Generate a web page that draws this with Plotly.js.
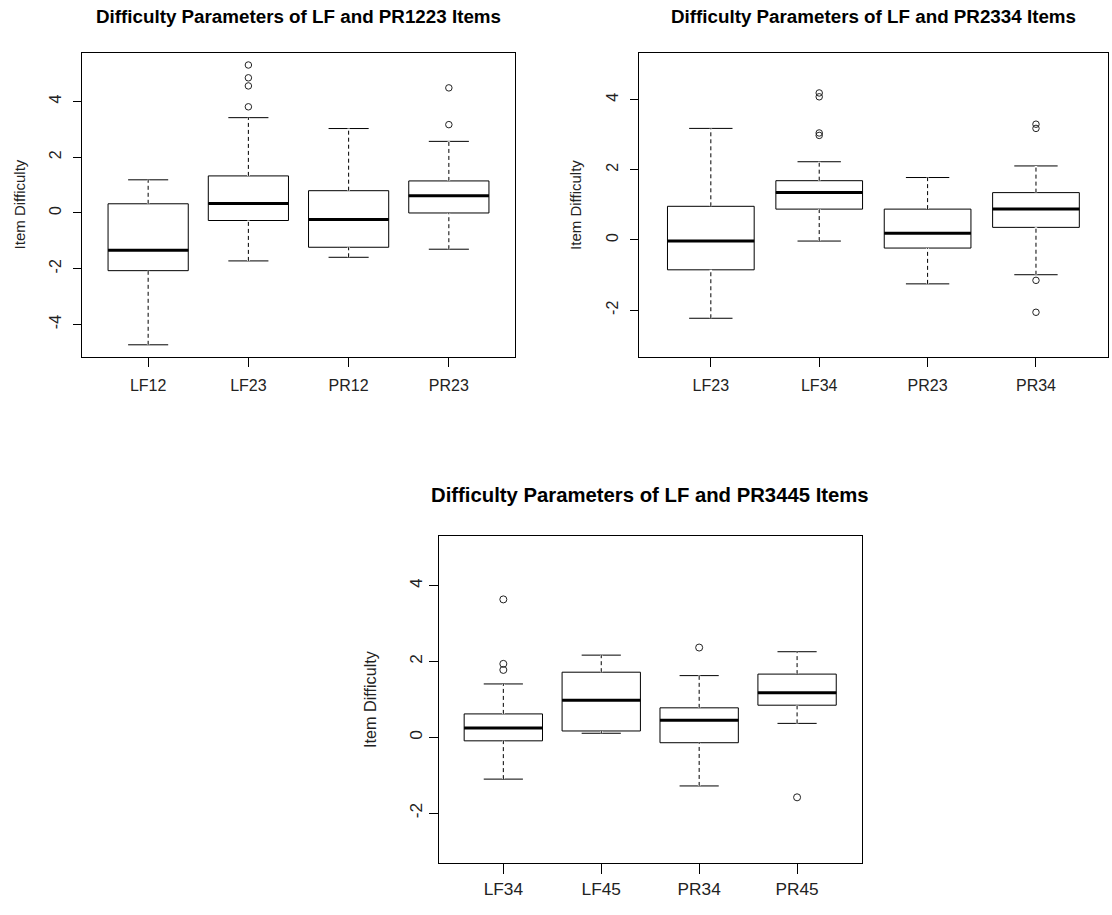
<!DOCTYPE html>
<html>
<head>
<meta charset="utf-8">
<script src="https://cdn.plot.ly/plotly-3.0.1.min.js"></script>
<style>html,body{margin:0;padding:0;background:#fff;}#chart{width:1112px;height:915px;}</style>
</head>
<body>
<div id="chart"></div>
<script>
// ---------- data ----------
const titles = [
  "Difficulty Parameters of LF and PR1223 Items",
  "Difficulty Parameters of LF and PR2334 Items",
  "Difficulty Parameters of LF and PR3445 Items"
];
const yLabel = "Item Difficulty";

const cats1 = ["LF12", "LF23", "PR12", "PR23"];
const lower1 = [-4.73, -1.72, -1.59, -1.30];
const q1_1   = [-2.07, -0.27, -1.23, 0.00];
const med1   = [-1.34, 0.34, -0.23, 0.62];
const q3_1   = [0.33, 1.33, 0.80, 1.15];
const upper1 = [1.19, 3.42, 3.03, 2.57];
const outCat1 = ["LF23", "LF23", "LF23", "LF23", "PR23", "PR23"];
const outVal1 = [5.31, 4.85, 4.56, 3.81, 4.49, 3.17];

const cats2 = ["LF23", "LF34", "PR23", "PR34"];
const lower2 = [-2.23, -0.03, -1.25, -0.99];
const q1_2   = [-0.85, 0.88, -0.23, 0.36];
const med2   = [-0.03, 1.35, 0.19, 0.88];
const q3_2   = [0.96, 1.69, 0.88, 1.35];
const upper2 = [3.18, 2.23, 1.78, 2.11];
const outCat2 = ["LF34", "LF34", "LF34", "LF34", "PR34", "PR34", "PR34", "PR34"];
const outVal2 = [4.19, 4.08, 3.05, 2.98, 3.30, 3.18, -1.15, -2.06];

const cats3 = ["LF34", "LF45", "PR34", "PR45"];
const lower3 = [-1.10, 0.11, -1.28, 0.37];
const q1_3   = [-0.09, 0.17, -0.14, 0.85];
const med3   = [0.25, 0.98, 0.45, 1.18];
const q3_3   = [0.62, 1.72, 0.78, 1.67];
const upper3 = [1.41, 2.17, 1.63, 2.26];
const outCat3 = ["LF34", "LF34", "LF34", "PR34", "PR45"];
const outVal3 = [3.64, 1.94, 1.78, 2.37, -1.58];

const yTicks1 = [-4, -2, 0, 2, 4];
const yTicks2 = [-2, 0, 2, 4];
const yTicks3 = [-2, 0, 2, 4];

// ---------- layout geometry (pixels) ----------
const W = 1112, H = 915;
const panels = [
  {cats: cats1, lo: lower1, q1: q1_1, md: med1, q3: q3_1, hi: upper1, oc: outCat1, ov: outVal1,
   yt: yTicks1, yr: [-5.15, 5.73], px: [82, 515], py: [53.3, 356.5], s: 1.0, titleY: 16, ytx: 19.5},
  {cats: cats2, lo: lower2, q1: q1_2, md: med2, q3: q3_2, hi: upper2, oc: outCat2, ov: outVal2,
   yt: yTicks2, yr: [-3.32, 5.32], px: [639.3, 1107.5], py: [53.3, 356.5], s: 1.0, titleY: 16, ytx: 576},
  {cats: cats3, lo: lower3, q1: q1_3, md: med3, q3: q3_3, hi: upper3, oc: outCat3, ov: outVal3,
   yt: yTicks3, yr: [-3.32, 5.32], px: [438.7, 861.7], py: [535.7, 863.3], s: 1.08, titleY: 495, ytx: 369.5}
];

const FONT = "Liberation Sans, Arial, Helvetica, sans-serif";
const BOXW = 0.8;
const traces = [];
const layout = {
  width: W, height: H,
  margin: {l: 0, r: 0, t: 0, b: 0},
  paper_bgcolor: "#fff", plot_bgcolor: "#fff",
  showlegend: false,
  font: {family: FONT, color: "#222"},
  annotations: []
};

panels.forEach((p, k) => {
  const n = k + 1;
  const xa = "x" + (n === 1 ? "" : n), ya = "y" + (n === 1 ? "" : n);
  const xKey = "xaxis" + (n === 1 ? "" : n), yKey = "yaxis" + (n === 1 ? "" : n);
  const pos = p.cats.map((c, i) => i + 1);

  // box bodies with whiskers and caps
  traces.push({
    type: "box", xaxis: xa, yaxis: ya, x: pos,
    q1: p.q1, median: p.md, q3: p.q3, lowerfence: p.lo, upperfence: p.hi,
    width: BOXW, whiskerwidth: 0.5, boxpoints: false,
    fillcolor: "#ffffff", line: {color: "#000", width: 1},
    hoverinfo: "skip"
  });

  // dashed whiskers (R style): white cover + dashed line
  const wx = [], wy = [];
  pos.forEach((x, i) => {
    wx.push(x, x, null, x, x, null);
    wy.push(p.q3[i], p.hi[i], null, p.lo[i], p.q1[i], null);
  });
  traces.push({type: "scatter", mode: "lines", xaxis: xa, yaxis: ya, x: wx, y: wy,
    line: {color: "#fff", width: 2.5}, hoverinfo: "skip", connectgaps: false});
  traces.push({type: "scatter", mode: "lines", xaxis: xa, yaxis: ya, x: wx, y: wy,
    line: {color: "#000", width: 1, dash: "4px,3px"}, hoverinfo: "skip", connectgaps: false});

  // thick medians
  const mx = [], my = [];
  pos.forEach((x, i) => { mx.push(x - BOXW / 2, x + BOXW / 2, null); my.push(p.md[i], p.md[i], null); });
  traces.push({type: "scatter", mode: "lines", xaxis: xa, yaxis: ya, x: mx, y: my,
    line: {color: "#000", width: 3}, hoverinfo: "skip"});

  // outliers
  traces.push({type: "scatter", mode: "markers", xaxis: xa, yaxis: ya,
    x: p.oc.map(c => p.cats.indexOf(c) + 1), y: p.ov,
    marker: {symbol: "circle-open", size: 6.5 * p.s, color: "#222", line: {width: 1, color: "#222"}},
    hoverinfo: "skip"});

  const fs = 16 * p.s;
  layout[xKey] = {
    domain: [p.px[0] / W, p.px[1] / W], anchor: ya,
    range: [0.34, 4.66], tickmode: "array", tickvals: pos, ticktext: p.cats,
    ticks: "outside", ticklen: 9 * p.s, tickwidth: 1, tickcolor: "#000",
    showline: true, mirror: true, linecolor: "#000", linewidth: 1,
    showgrid: false, zeroline: false, fixedrange: true,
    tickfont: {family: FONT, size: fs, color: "#222"}, ticklabelstandoff: 5 * p.s
  };
  layout[yKey] = {
    domain: [1 - p.py[1] / H, 1 - p.py[0] / H], anchor: xa,
    range: p.yr, tickmode: "array", tickvals: p.yt, ticktext: p.yt.map(String),
    tickangle: -90,
    ticks: "outside", ticklen: 8 * p.s, tickwidth: 1, tickcolor: "#000",
    showline: true, mirror: true, linecolor: "#000", linewidth: 1,
    showgrid: false, zeroline: false, fixedrange: true,
    tickfont: {family: FONT, size: fs, color: "#222"}, ticklabelstandoff: 6 * p.s
  };

  // panel title
  layout.annotations.push({
    text: "<b>" + titles[k] + "</b>", xref: "paper", yref: "paper",
    x: (p.px[0] + p.px[1]) / 2 / W, y: 1 - p.titleY / H,
    xanchor: "center", yanchor: "middle", showarrow: false,
    font: {family: FONT, size: 18.8 * p.s, color: "#000"}
  });
  // y axis label
  layout.annotations.push({
    text: yLabel, xref: "paper", yref: "paper", textangle: -90,
    x: p.ytx / W, y: 1 - ((p.py[0] + p.py[1]) / 2) / H,
    xanchor: "center", yanchor: "middle", showarrow: false,
    font: {family: FONT, size: 15 * p.s, color: "#222"}
  });
});

Plotly.newPlot("chart", traces, layout, {staticPlot: true, displayModeBar: false});
</script>
</body>
</html>
